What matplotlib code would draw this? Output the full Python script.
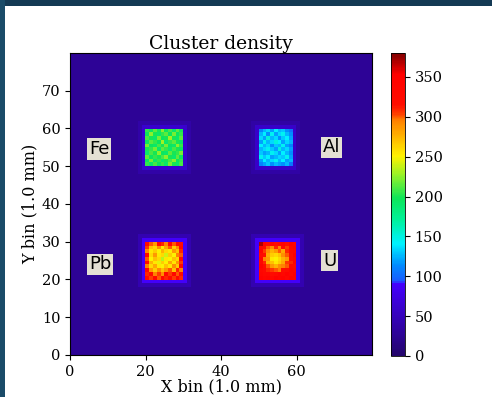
import numpy as np
import matplotlib.pyplot as plt
from matplotlib.colors import LinearSegmentedColormap
from matplotlib.patches import Rectangle

# detector grid, 1 mm bins
n_bins = 80
background = 28

# block name, x0, y0, label position
names = ['Fe', 'Al', 'Pb', 'U']
x0s = [20, 50, 20, 50]
y0s = [50, 50, 20, 20]
label_x = [5, 67, 5, 67]
label_y = [54.5, 55, 24, 25]
# counts in the two rings around each block (inner, outer)
ring_inner = [62, 58, 88, 88]
ring_outer = [38, 36, 44, 44]

# cluster counts per block, rows listed from top (high y) to bottom
fe_counts = [
    [205, 195, 215, 200, 225, 195, 210, 190, 215, 200],
    [195, 225, 200, 190, 205, 215, 195, 220, 195, 205],
    [210, 200, 190, 220, 195, 200, 230, 200, 190, 215],
    [195, 215, 205, 195, 230, 190, 205, 215, 200, 195],
    [220, 195, 190, 210, 200, 220, 195, 190, 225, 205],
    [200, 205, 220, 190, 215, 205, 190, 210, 200, 195],
    [190, 210, 200, 225, 195, 190, 215, 200, 205, 220],
    [215, 195, 205, 200, 210, 225, 200, 190, 215, 195],
    [195, 220, 190, 205, 190, 200, 210, 225, 195, 205],
    [205, 190, 210, 195, 205, 190, 220, 200, 190, 210],
]
al_counts = [
    [110, 125, 135, 120, 140, 125, 130, 115, 105],
    [125, 140, 115, 145, 120, 135, 145, 125, 115],
    [135, 120, 150, 125, 135, 115, 130, 140, 120],
    [120, 145, 125, 135, 150, 140, 120, 135, 125],
    [140, 125, 135, 115, 130, 125, 145, 120, 110],
    [125, 135, 145, 130, 120, 150, 125, 135, 120],
    [130, 120, 125, 145, 135, 120, 140, 125, 115],
    [145, 130, 140, 120, 125, 135, 130, 145, 120],
    [120, 140, 125, 135, 145, 125, 140, 120, 125],
    [110, 120, 130, 115, 125, 120, 115, 125, 105],
]
pb_counts = [
    [320, 300, 285, 330, 310, 295, 335, 300, 325, 315],
    [305, 270, 260, 290, 255, 280, 300, 265, 290, 330],
    [290, 255, 265, 250, 275, 260, 255, 285, 270, 310],
    [325, 260, 285, 255, 260, 240, 265, 250, 295, 300],
    [300, 250, 270, 260, 235, 255, 250, 270, 260, 320],
    [315, 275, 255, 245, 265, 250, 280, 255, 285, 305],
    [295, 260, 280, 255, 250, 270, 255, 290, 265, 330],
    [330, 285, 265, 290, 270, 285, 300, 270, 310, 295],
    [310, 320, 295, 305, 290, 325, 305, 330, 300, 320],
    [325, 305, 330, 300, 335, 310, 320, 305, 335, 310],
]
u_counts = [
    [370, 340, 325, 335, 315, 330, 340, 320, 345, 335],
    [335, 320, 300, 290, 310, 295, 320, 305, 330, 340],
    [345, 305, 290, 275, 285, 300, 280, 310, 325, 330],
    [325, 315, 280, 265, 260, 270, 290, 300, 315, 345],
    [340, 295, 285, 255, 250, 260, 275, 285, 320, 335],
    [330, 310, 275, 270, 255, 265, 280, 305, 310, 340],
    [345, 320, 300, 285, 275, 290, 295, 300, 330, 325],
    [335, 325, 310, 305, 300, 295, 315, 320, 340, 335],
    [340, 330, 335, 320, 325, 340, 330, 345, 335, 350],
    [350, 340, 345, 335, 350, 340, 345, 335, 350, 345],
]
blocks = [fe_counts, al_counts, pb_counts, u_counts]

vmax = 380
cmap_stops = [
    (0.0, (0.14, 0.02, 0.42)),
    (0.24, (0.27, 0.0, 1.0)),
    (0.245, (0.1, 0.35, 1.0)),
    (0.30, (0.0, 0.55, 1.0)),
    (0.37, (0.0, 0.95, 1.0)),
    (0.45, (0.0, 0.95, 0.6)),
    (0.52, (0.05, 0.9, 0.35)),
    (0.60, (0.6, 0.95, 0.15)),
    (0.66, (1.0, 0.95, 0.0)),
    (0.78, (1.0, 0.5, 0.0)),
    (0.80, (1.0, 0.25, 0.0)),
    (0.83, (1.0, 0.05, 0.0)),
    (0.93, (1.0, 0.0, 0.0)),
    (1.0, (0.5, 0.0, 0.0)),
]
cmap = LinearSegmentedColormap.from_list('cluster', cmap_stops)

# build the density map
density = np.full((n_bins, n_bins), float(background))
for blk, x0, y0, r1, r2 in zip(blocks, x0s, y0s, ring_inner, ring_outer):
    arr = np.flipud(np.array(blk, dtype=float))
    h, w = arr.shape
    density[y0 - 2:y0 + h + 2, x0 - 2:x0 + w + 2] = r2
    density[y0 - 1:y0 + h + 1, x0 - 1:x0 + w + 1] = r1
    density[y0:y0 + h, x0:x0 + w] = arr

fig = plt.figure(figsize=(4.92, 3.97), dpi=100)
plt.rcParams['font.family'] = 'DejaVu Serif'

ax = fig.add_axes([0.1402, 0.1058, 0.618, 0.7607])
im = ax.imshow(density, origin='lower', cmap=cmap, vmin=0, vmax=vmax,
               extent=(0, n_bins, 0, n_bins), interpolation='nearest')
ax.set_xticks([0, 20, 40, 60])
ax.set_yticks(range(0, 80, 10))
ax.tick_params(labelsize=10.5)
ax.set_xlabel('X bin (1.0 mm)', fontsize=11.5, labelpad=0)
ax.set_ylabel('Y bin (1.0 mm)', fontsize=11.5, labelpad=2)
ax.set_title('Cluster density', fontsize=13.5, pad=3)

for name, tx, ty in zip(names, label_x, label_y):
    ax.text(tx, ty, name, family='DejaVu Sans', fontsize=13, va='center', ha='left',
            bbox=dict(boxstyle='square,pad=0.1', facecolor='#e4e0d4', edgecolor='none'))

cax = fig.add_axes([0.7947, 0.1033, 0.0285, 0.763])
cb = fig.colorbar(im, cax=cax, ticks=range(0, 400, 50))
cb.ax.tick_params(labelsize=10.5)
cb.outline.set_linewidth(0.6)

# dark frame along the top and left edges
fig.patches.append(Rectangle((0, 1 - 6 / 397), 1, 6 / 397, transform=fig.transFigure,
                             facecolor='#143a54', edgecolor='none'))
fig.patches.append(Rectangle((0, 0), 5 / 492, 1, transform=fig.transFigure,
                             facecolor='#1a4b68', edgecolor='none'))

fig.savefig('out.png', dpi=100)
